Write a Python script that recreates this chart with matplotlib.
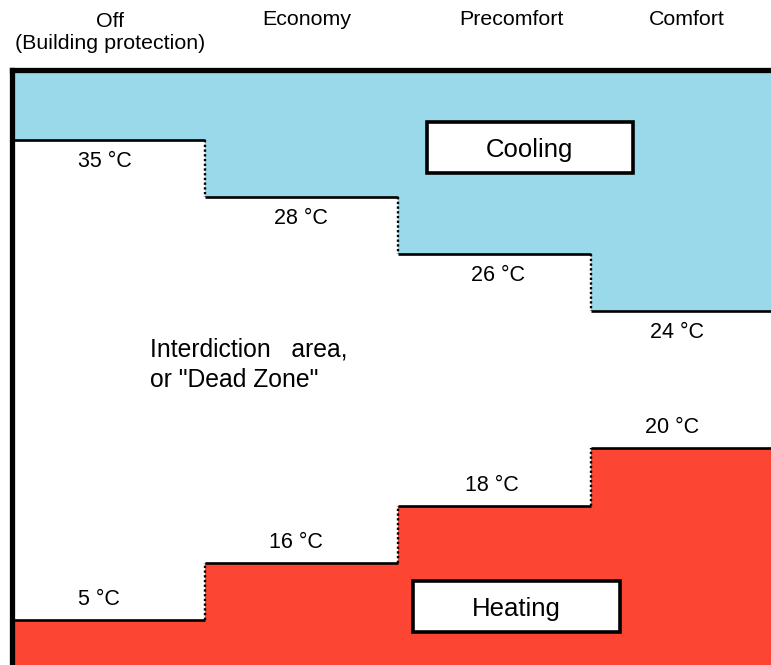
import matplotlib.pyplot as plt
from matplotlib.patches import Rectangle

# modos de operacion (columnas) y consignas
modos = ["Off\n(Building protection)", "Economy", "Precomfort", "Comfort"]
temp_frio = [35, 28, 26, 24]
temp_calor = [5, 16, 18, 20]
# altura esquematica de cada escalon (no es proporcional a la temperatura)
nivel_frio = [9.21, 8.22, 7.21, 6.21]
nivel_calor = [0.79, 1.79, 2.79, 3.81]

azul = "#9AD9E9"
rojo = "#FC4533"
techo = 10.44
bordes = [0, 1, 2, 3, 4]

plt.rcParams['font.family'] = ['Liberation Sans', 'DejaVu Sans']

fig = plt.figure(figsize=(7.71, 6.65), dpi=100)
ax = fig.add_axes([12 / 771, 0, 759 / 771, 595 / 665])
ax.set_xlim(0, 3.935)
ax.set_ylim(0, techo)

# zonas rellenas
ax.stairs(nivel_frio, bordes, baseline=techo, fill=True, color=azul, lw=0)
ax.stairs(nivel_calor, bordes, baseline=0, fill=True, color=rojo, lw=0)

# escalones
for niveles in (nivel_frio, nivel_calor):
    ax.hlines(niveles, bordes[:-1], bordes[1:], color="black", lw=1.9)
    ax.vlines(bordes[1:-1], niveles[:-1], niveles[1:], color="black",
              lw=1.7, linestyles=(0, (1, 1)))

# etiquetas de temperatura
centros = [0.48, 1.5, 2.52, 3.45]
for i in range(4):
    ax.annotate(f"{temp_frio[i]} °C", (centros[i], nivel_frio[i]), xytext=(0, -15.5),
                textcoords="offset points", ha="center", va="center", fontsize=15.5)
    ax.annotate(f"{temp_calor[i]} °C", (centros[i] - 0.03, nivel_calor[i]), xytext=(0, 14.5),
                textcoords="offset points", ha="center", va="center", fontsize=15.5)

# cabeceras
pos_cab = [0.51, 1.53, 2.59, 3.5]
for i, m in enumerate(modos):
    y = 11.1 if "\n" in m else 11.32
    ax.text(pos_cab[i], y, m, ha="center", va="center", fontsize=15.4,
            linespacing=1.15, clip_on=False)

# cajas Cooling / Heating
for x0, y0, txt in [(2.15, 8.63, "Cooling"), (2.08, 0.58, "Heating")]:
    ax.add_patch(Rectangle((x0, y0), 1.07, 0.89, facecolor="white",
                           edgecolor="black", lw=2.6, zorder=3))
    ax.text(x0 + 0.535, y0 + 0.4, txt, ha="center", va="center",
            fontsize=18.5, zorder=4)

ax.text(0.715, 5.27, "Interdiction   area,\nor \"Dead Zone\"", ha="left",
        va="center", fontsize=17.8, linespacing=1.35)

# marco
for s in ["right", "bottom"]:
    ax.spines[s].set_visible(False)
ax.spines["top"].set_linewidth(3.8)
ax.spines["left"].set_linewidth(3.8)
ax.set_xticks([])
ax.set_yticks([])

fig.savefig("out.png", dpi=100)
